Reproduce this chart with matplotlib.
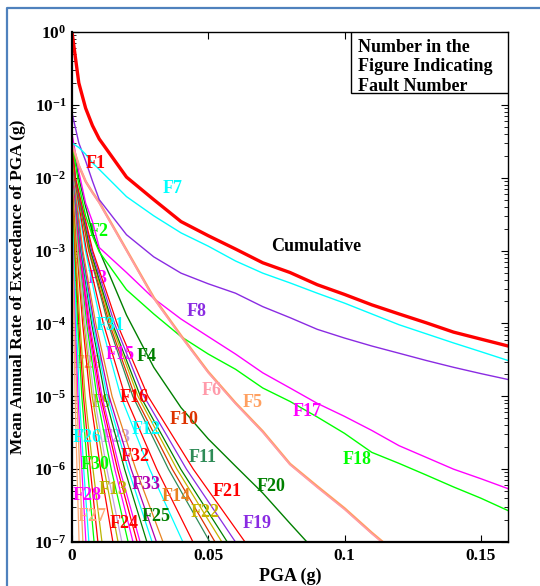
import matplotlib
matplotlib.use('Agg')
import matplotlib.pyplot as plt
from matplotlib.ticker import FixedLocator, FuncFormatter, NullFormatter
from matplotlib.patches import Rectangle
from matplotlib.lines import Line2D
import numpy as np

plt.rcParams['font.family'] = ['Liberation Serif', 'DejaVu Serif']
plt.rcParams['font.weight'] = 'bold'
plt.rcParams['mathtext.fontset'] = 'custom'
plt.rcParams['mathtext.rm'] = 'Liberation Serif:bold'
plt.rcParams['mathtext.bf'] = 'Liberation Serif:bold'
plt.rcParams['mathtext.it'] = 'Liberation Serif:bold:italic'

# ---------------- data ----------------
# common PGA grid (g) for the long curves
pga_grid = [0.0, 0.0025, 0.005, 0.0075, 0.01, 0.02, 0.03, 0.04, 0.05, 0.06,
            0.07, 0.08, 0.09, 0.10, 0.11, 0.12, 0.13, 0.14, 0.15, 0.16]

cumulative = [1.0, 0.2, 0.09, 0.052, 0.034, 0.0102, 0.005, 2.5e-3, 1.6e-3, 1.05e-3,
              6.8e-4, 5.0e-4, 3.4e-4, 2.5e-4, 1.8e-4, 1.35e-4, 1.02e-4, 7.6e-5, 6.1e-5, 4.9e-5]
F7 = [0.03, 0.026, 0.021, 0.016, 0.013, 5.5e-3, 3.0e-3, 1.75e-3, 1.15e-3, 7.2e-4,
      4.9e-4, 3.6e-4, 2.6e-4, 1.9e-4, 1.35e-4, 9.6e-5, 7.2e-5, 5.4e-5, 4.1e-5, 3.1e-5]
F8 = [0.078, 0.03, 0.017, 9e-3, 5e-3, 1.65e-3, 8.2e-4, 4.9e-4, 3.5e-4, 2.6e-4,
      1.7e-4, 1.2e-4, 8.3e-5, 6.3e-5, 4.9e-5, 3.9e-5, 3.1e-5, 2.5e-5, 2.05e-5, 1.7e-5]
F17 = [0.04, 0.012, 4.5e-3, 2.5e-3, 1.1e-3, 5.0e-4, 2.2e-4, 1.15e-4, 6.6e-5, 3.8e-5,
       2.1e-5, 1.3e-5, 8e-6, 5.3e-6, 3.4e-6, 2.1e-6, 1.45e-6, 1.0e-6, 7.4e-7, 5.4e-7]
F18 = [0.03, 8e-3, 3e-3, 1.6e-3, 9.6e-4, 2.9e-4, 1.35e-4, 6.6e-5, 3.8e-5, 2.35e-5,
       1.3e-5, 8.5e-6, 5.2e-6, 3.1e-6, 1.7e-6, 1.2e-6, 8.3e-7, 5.7e-7, 4.0e-7, 2.7e-7]
F6 = [0.03, 0.015, 9e-3, 6.2e-3, 4.5e-3, 1.0e-3, 2.2e-4, 6.6e-5, 2.1e-5, 7.9e-6,
      3.2e-6, 1.15e-6, 5.6e-7, 2.8e-7, 1.3e-7, 6.3e-8]
F5 = [0.029, 0.0147, 8.9e-3, 6.3e-3, 4.6e-3, 1.02e-3, 2.26e-4, 6.8e-5, 2.16e-5, 8.1e-6,
      3.3e-6, 1.18e-6, 5.8e-7, 2.9e-7, 1.34e-7, 6.5e-8]
F20 = [0.035, 0.01, 4e-3, 1.8e-3, 1.0e-3, 1.3e-4, 2.5e-5, 7e-6, 2.6e-6, 1.1e-6,
       4.7e-7, 1.8e-7, 7e-8]

long_names = ['F20', 'F18', 'F17', 'F5', 'F6', 'F8', 'F7']
long_rates = [F20, F18, F17, F5, F6, F8, F7]
long_colors = ['#008000', '#00FF00', '#FF00FF', '#FFA060', '#FF9AAA', '#8A2BE2', '#00FFFF']
long_widths = [1.0, 1.0, 1.0, 1.8, 1.1, 1.0, 1.0]

# steep faults: rate levels reached at the PGA values listed per fault
rate_levels = [1e-2, 1e-3, 1e-4, 1e-5, 1e-6, 1e-7, 3e-8]
steep_names = ['F27', 'F29', 'F28', 'F26', 'F30', 'F1', 'F13', 'F24', 'F9', 'F23',
               'F2', 'F3', 'F32', 'F15', 'F25', 'F31', 'F33', 'F14', 'F12', 'F16',
               'F11', 'F10', 'F22', 'F4', 'F19', 'F21']
steep_colors = ['#FFAA77', '#F4A460', '#FF00FF', '#00FFFF', '#00FF00', '#FF0000', '#BBB400',
                '#FF0000', '#BBB400', '#C8A0E0', '#00FF00', '#FF00FF', '#FF0000', '#FF00FF',
                '#008000', '#00FFFF', '#B000B0', '#E8821E', '#00FFFF', '#FF0000', '#2E8B57',
                '#DD3300', '#C8B400', '#008000', '#8A2BE2', '#FF0000']
steep_start = [0.006, 0.012, 0.008, 0.009, 0.009, 0.06, 0.012, 0.015, 0.02, 0.012,
               0.035, 0.045, 0.03, 0.025, 0.015, 0.03, 0.02, 0.02, 0.03, 0.03,
               0.02, 0.025, 0.02, 0.04, 0.03, 0.03]
steep_pga = [
    [0, 0.00031, 0.00068, 0.00114, 0.00182, 0.0026, 0.00304],
    [0, 0.0001, 0.00048, 0.00104, 0.00176, 0.0028, 0.004, 0.0047],
    [0, 0.0006, 0.0013, 0.0022, 0.0036, 0.0051, 0.006],
    [0, 0.00074, 0.0016, 0.0027, 0.0043, 0.0062, 0.0073],
    [0, 0.00097, 0.0021, 0.0036, 0.0057, 0.0081, 0.0095],
    [0, 0.00019, 0.0011, 0.0025, 0.0042, 0.0067, 0.0095, 0.0111],
    [0, 0.00022, 0.0013, 0.0029, 0.0048, 0.0077, 0.011, 0.0129],
    [0, 0.0003, 0.0018, 0.0039, 0.0066, 0.0105, 0.015, 0.0176],
    [0, 0.00034, 0.002, 0.0044, 0.0074, 0.0118, 0.0169, 0.0198],
    [0, 0.00037, 0.0022, 0.0048, 0.0081, 0.0128, 0.0183, 0.0214],
    [0, 0.00041, 0.0025, 0.0054, 0.0091, 0.0144, 0.0206, 0.0241],
    [0, 0.00045, 0.0027, 0.0058, 0.0099, 0.0157, 0.0224, 0.0262],
    [0, 0.00048, 0.0029, 0.0062, 0.0105, 0.0167, 0.0239, 0.028],
    [0, 0.0005, 0.003, 0.0065, 0.011, 0.0175, 0.025, 0.0293],
    [0, 0.00055, 0.0033, 0.0072, 0.0121, 0.0193, 0.0275, 0.0322],
    [0, 0.00059, 0.0035, 0.0076, 0.0129, 0.0206, 0.0294, 0.0344],
    [0, 0.00062, 0.0037, 0.0081, 0.0136, 0.0217, 0.031, 0.0363],
    [0, 0.00067, 0.004, 0.0087, 0.0147, 0.0234, 0.0334, 0.0391],
    [0, 0.00081, 0.0049, 0.0106, 0.0179, 0.0285, 0.0407, 0.0476],
    [0, 0.00089, 0.0053, 0.0115, 0.0195, 0.0311, 0.0444, 0.052],
    [0, 0.001, 0.0061, 0.0132, 0.0223, 0.0354, 0.0506, 0.0592],
    [0, 0.00105, 0.0063, 0.0137, 0.0231, 0.0368, 0.0525, 0.0614],
    [0, 0.0011, 0.0066, 0.0143, 0.0242, 0.0385, 0.055, 0.0644],
    [0, 0.00114, 0.0068, 0.0148, 0.0251, 0.0399, 0.057, 0.0667],
    [0, 0.0012, 0.0072, 0.0156, 0.0264, 0.042, 0.060, 0.0702],
    [0, 0.00127, 0.0076, 0.0165, 0.0279, 0.0445, 0.0635, 0.0743],
]

# labels in the figure
label_names = ['F1', 'F7', 'F2', 'F3', 'F8', 'F31', 'F15', 'F4', 'F29', 'F6', 'F5', 'F17',
               'F9', 'F16', 'F10', 'F26', 'F23', 'F12', 'F32', 'F11', 'F18', 'F30', 'F20',
               'F13', 'F33', 'F21', 'F28', 'F14', 'F22', 'F27', 'F24', 'F25', 'F19']
label_colors = ['#FF0000', '#00FFFF', '#00FF00', '#FF00FF', '#8A2BE2', '#00FFFF', '#FF00FF',
                '#008000', '#FFA060', '#FF9AAA', '#FFA060', '#FF00FF', '#BBB400', '#FF0000',
                '#DD3300', '#00FFFF', '#C8A0E0', '#00FFFF', '#FF0000', '#2E8B57', '#00FF00',
                '#00FF00', '#008000', '#BBB400', '#B000B0', '#FF0000', '#FF00FF', '#E8821E',
                '#C8B400', '#FFAA77', '#FF0000', '#008000', '#8A2BE2']
label_x = [0.0088, 0.0371, 0.0099, 0.0095, 0.0459, 0.0139, 0.0176, 0.0275, 0.0059, 0.0514,
           0.0664, 0.0862, 0.0107, 0.0228, 0.0411, 0.0055, 0.0162, 0.0272, 0.0231, 0.0481,
           0.1046, 0.0084, 0.073, 0.015, 0.0272, 0.0569, 0.0055, 0.0382, 0.0488, 0.0073,
           0.0191, 0.0308, 0.0679]
label_logy = [-1.80, -2.15, -2.74, -3.39, -3.83, -4.03, -4.43, -4.46, -4.55, -4.92,
              -5.09, -5.21, -5.09, -5.02, -5.32, -5.56, -5.56, -5.45, -5.83, -5.84,
              -5.87, -5.94, -6.24, -6.28, -6.21, -6.31, -6.36, -6.38, -6.6, -6.65,
              -6.75, -6.65, -6.75]
hidden_labels = ['F29', 'F9', 'F23', 'F2', 'F3']

y_exponents = [-7, -6, -5, -4, -3, -2, -1, 0]
x_ticks = [0, 0.05, 0.1, 0.15]
x_ticklabels = ['0', '0.05', '0.1', '0.15']

# ---------------- figure ----------------
fig = plt.figure(figsize=(5.4, 5.86), dpi=100)
ax = fig.add_axes([72/540, 1-542/586, 436/540, 510/586])
ax.set_yscale('log')

for name, col, r0, xs in zip(steep_names, steep_colors, steep_start, steep_pga):
    levels = rate_levels[-(len(xs) - 1):]
    ax.plot(xs, [r0] + levels, color=col, lw=0.9, zorder=2)

for name, col, rates, w in zip(long_names, long_colors, long_rates, long_widths):
    ax.plot(pga_grid[:len(rates)], rates, color=col, lw=w, zorder=2.2)

ax.plot(pga_grid, cumulative, color='#FF0000', lw=2.4, zorder=2.5)

for name, col, lx, ly in zip(label_names, label_colors, label_x, label_logy):
    z = 1.5 if name in hidden_labels else 3
    ax.text(lx, 10**ly, name, color=col, fontsize=13, fontweight='bold',
            ha='center', va='center', zorder=z)

ax.text(0.0895, 10**-2.95, 'Cumulative', color='black', fontsize=13,
        fontweight='bold', ha='center', va='center', zorder=3)

# legend-like box
ax.add_patch(Rectangle((0.64, 0.880), 0.36, 0.12, transform=ax.transAxes,
                       facecolor='white', edgecolor='black', lw=1.0, zorder=4))
for i, t in enumerate(['Number in the', 'Figure Indicating', 'Fault Number']):
    ax.text(0.656, 0.970 - i*0.0385, t, transform=ax.transAxes, fontsize=13,
            fontweight='bold', ha='left', va='center', zorder=5)

ax.set_xlim(0, 0.16)
ax.set_ylim(1e-7, 1)

ax.xaxis.set_major_locator(FixedLocator(x_ticks))
ax.set_xticklabels(x_ticklabels)
ax.yaxis.set_major_locator(FixedLocator([10.0**e for e in y_exponents]))
ax.yaxis.set_minor_locator(FixedLocator([m * 10.0**e for e in y_exponents[:-1] for m in range(2, 10)]))
ax.yaxis.set_minor_formatter(NullFormatter())
ax.yaxis.set_major_formatter(FuncFormatter(lambda v, p: r'$\mathbf{10^{%d}}$' % int(round(np.log10(v)))))

ax.tick_params(which='both', direction='in', top=True, right=True, labelsize=12.5)
ax.tick_params(which='major', length=5, width=0.8, pad=4)
ax.tick_params(which='minor', length=3, width=0.6)
for lab in ax.get_xticklabels():
    lab.set_fontweight('bold')

for s in ['left', 'bottom']:
    ax.spines[s].set_linewidth(1.6)
for s in ['top', 'right']:
    ax.spines[s].set_linewidth(1.0)

ax.set_xlabel('PGA (g)', fontsize=13, fontweight='bold', labelpad=3)
ax.set_ylabel('Mean Annual Rate of Exceedance of PGA (g)', fontsize=12.5,
              fontweight='bold', labelpad=6)

fig.add_artist(Line2D([7/540, 7/540, 1.0], [0, 1-8/586, 1-8/586],
                      transform=fig.transFigure, color='#4F81BD', lw=1.6))

fig.savefig('out.png', dpi=100)
